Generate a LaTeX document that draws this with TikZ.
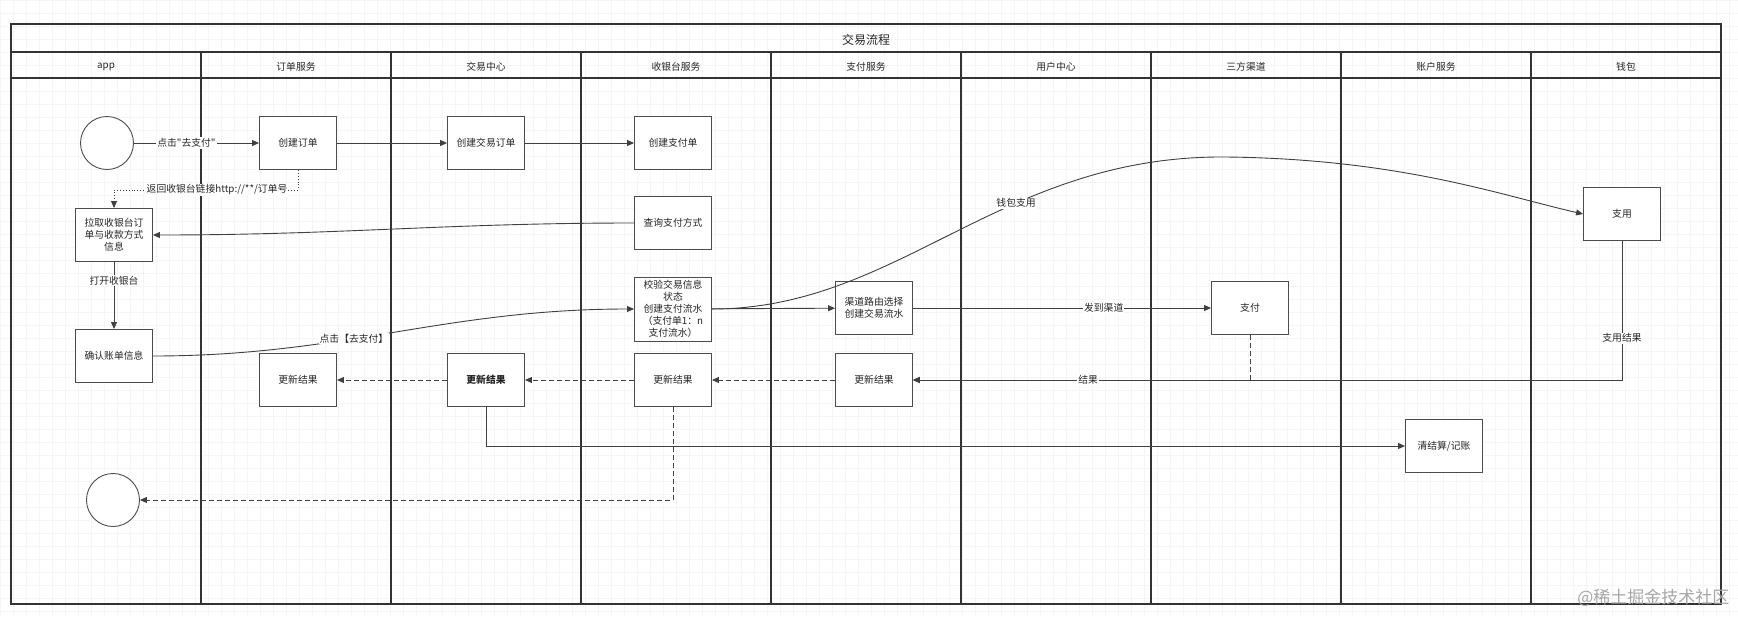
\documentclass[tikz,border=0pt]{standalone}
\usepackage{fontspec}
\setmainfont{Noto Sans CJK SC}[Ligatures=TeXOff]
\usetikzlibrary{arrows.meta}

\begin{document}
\begin{tikzpicture}[x=1pt,y=-1pt,font=\fontsize{9.8}{12}\selectfont,text=black!85,
    box/.style={draw=black!70,line width=0.9pt,fill=white,minimum width=77pt,minimum height=53pt,inner sep=1pt,align=center},
    ring/.style={draw=black!70,line width=0.9pt,fill=white,circle,minimum size=53pt},
    lane/.style={draw=black!80,line width=1.6pt},
    flow/.style={draw=black!75,line width=0.9pt,-{Triangle[length=7pt,width=6pt]}},
    back/.style={flow,dash pattern=on 5pt off 3pt},
    lbl/.style={fill=white,inner sep=1pt}]
    \useasboundingbox (0,0) rectangle (1738,616);
    \fill[white] (0,0) rectangle (1738,616);
    \draw[black!4,line width=0.5pt,step=13pt] (0,0) grid (1738,616);

    \draw[lane] (11,24) rectangle (1721,604);
    \draw[lane] (11,52) -- (1721,52);
    \draw[lane] (11,78) -- (1721,78);
    \node (title) at (866,40) {\fontsize{12}{14}\selectfont 交易流程};
    \foreach \i/\name in {0/app,1/订单服务,2/交易中心,3/收银台服务,4/支付服务,5/用户中心,6/三方渠道,7/账户服务,8/钱包}
        \node (head\i) at (106+190*\i,67) {\name};
    \foreach \i in {1,...,8}
        \draw[lane] (11+190*\i,52) -- (11+190*\i,604);

    \node[ring] (start) at (107,143) {};
    \node[box] (order) at (298,143) {创建订单};
    \node[box] (trade) at (486,143) {创建交易订单};
    \node[box] (payorder) at (673,143) {创建支付单};
    \node[box] (pull) at (114,235) {拉取收银台订\\单与收款方式\\信息};
    \node[box] (query) at (673,223) {查询支付方式};
    \node[box] (confirm) at (114,356) {确认账单信息};
    \node[box,minimum height=64pt] (check) at (673,309) {校验交易信息\\状态\\创建支付流水\\（支付单1：n\\支付流水）};
    \node[box] (route) at (874,308) {渠道路由选择\\创建交易流水};
    \node[box] (channel) at (1250,308) {支付};
    \node[box] (wallet) at (1622,214) {支用};
    \node[box] (upd1) at (298,380) {更新结果};
    \node[box] (upd2) at (486,380) {\bfseries 更新结果};
    \node[box] (upd3) at (673,380) {更新结果};
    \node[box] (upd4) at (874,380) {更新结果};
    \node[box] (settle) at (1444,446) {清结算/记账};
    \node[ring] (stop) at (113,500) {};

    \draw[flow] (start) -- node[lbl,pos=0.42] {点击"去支付"} (order);
    \draw[flow] (order) -- (trade);
    \draw[flow] (trade) -- (payorder);
    \draw[flow,dotted] (order.south) -- ++(0,20) -| node[lbl,pos=0.22] {返回收银台链接http://**/订单号} (pull.north);
    \draw[flow] (query) to[out=180,in=0] (pull);
    \draw[flow] (pull) -- node[lbl,pos=0.28] {打开收银台} (confirm);
    \draw[flow] (confirm) to[out=0,in=180] node[lbl,pos=0.41] {点击【去支付】} (check);
    \draw[flow] (check) -- (route);
    \draw[flow] (check.east) .. controls (900,309) and (1000,155) .. node[lbl,pos=0.63] {钱包支用} (1226,157)
        .. controls (1400,159) and (1500,195) .. (wallet.west);
    \draw[flow] (route) -- node[lbl,pos=0.64] {发到渠道} (channel);
    \draw[flow] (wallet) |- node[lbl,pos=0.35] {支用结果} (upd4);
    \draw[back] (channel) |- node[lbl,pos=0.74] {结果} (upd4);
    \draw[back] (upd4) -- (upd3);
    \draw[back] (upd3) -- (upd2);
    \draw[back] (upd2) -- (upd1);
    \draw[flow] (upd2) |- (settle);
    \draw[back] (upd3) |- (stop);

    \node[text=black!35,font=\fontsize{17}{17}\selectfont,anchor=east] (mark) at (1733,598) {@稀土掘金技术社区};
\end{tikzpicture}
\end{document}
